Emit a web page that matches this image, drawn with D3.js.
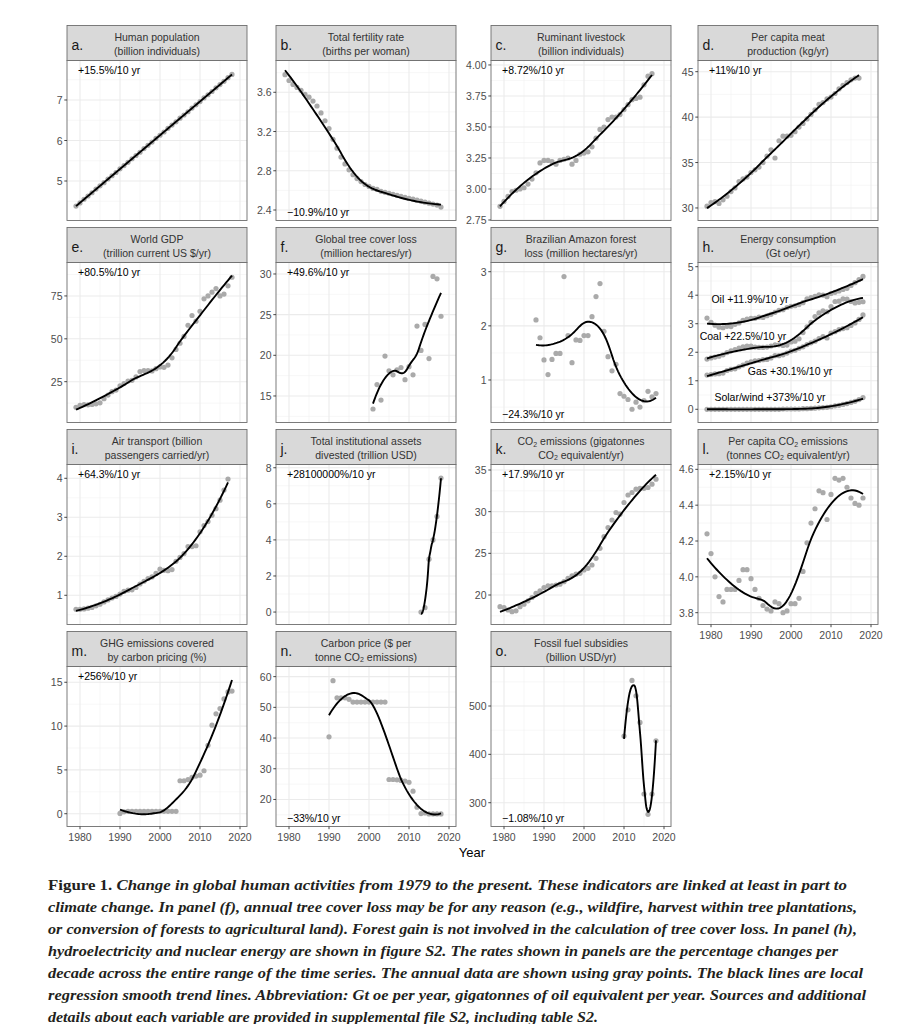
<!DOCTYPE html>
<html><head><meta charset="utf-8">
<script src="https://cdn.jsdelivr.net/npm/d3@7"></script>
<style>body{margin:0;background:#fff} svg{display:block}</style>
</head><body>
<svg id="chart" width="913" height="1024"></svg>
<script>
// ---------------- DATA ----------------
const xTickYears = [1980, 1990, 2000, 2010, 2020];
const xMinorYears = [1985, 1995, 2005, 2015];

const years7918 = d3.range(1979, 2019);
const years7917 = d3.range(1979, 2018);
const years0118 = d3.range(2001, 2019);
const years8818 = d3.range(1988, 2019);
const years1318 = d3.range(2013, 2019);
const years9018 = d3.range(1990, 2019);
const years1018 = d3.range(2010, 2019);

const population = [4.38,4.46,4.55,4.63,4.71,4.80,4.88,4.96,5.05,5.13,5.21,5.30,5.38,5.46,5.55,5.63,5.71,5.80,5.88,5.96,6.05,6.13,6.21,6.30,6.38,6.46,6.55,6.63,6.71,6.80,6.88,6.96,7.05,7.13,7.21,7.30,7.38,7.46,7.55,7.63];
const fertility = [3.78,3.72,3.68,3.65,3.62,3.58,3.55,3.51,3.46,3.39,3.31,3.23,3.12,3.03,2.94,2.87,2.81,2.76,2.72,2.69,2.66,2.64,2.62,2.61,2.59,2.58,2.57,2.56,2.55,2.54,2.53,2.52,2.51,2.50,2.49,2.48,2.47,2.46,2.45,2.43];
const livestock = [2.86,2.90,2.94,2.98,2.99,3.00,3.01,3.04,3.08,3.13,3.21,3.23,3.23,3.22,3.20,3.23,3.24,3.25,3.20,3.23,3.28,3.29,3.30,3.34,3.41,3.48,3.50,3.56,3.58,3.58,3.60,3.64,3.68,3.72,3.73,3.74,3.84,3.91,3.93];
const meat = [30.2,30.6,30.7,30.5,30.9,31.3,31.8,32.2,32.9,33.2,33.4,33.9,34.2,34.5,35.0,35.7,36.4,35.5,37.4,37.9,37.9,38.0,38.4,38.9,39.3,39.8,40.3,40.8,41.4,41.6,42.0,42.2,42.6,43.1,43.5,43.8,44.1,44.3,44.3];
const gdp = [10.1,11.2,11.6,11.5,11.7,12.1,12.7,15.1,17.2,19.2,20.1,22.6,23.9,25.4,25.8,27.8,30.9,31.5,31.4,31.3,32.6,33.6,33.4,34.7,38.9,43.8,47.4,51.4,57.9,63.6,60.3,66.0,73.3,75.0,77.2,79.3,75.0,76.1,80.9,85.9];
const treeLoss = [13.4,16.4,14.5,19.9,18.1,17.6,18.2,18.5,17.0,18.6,17.6,23.6,20.6,23.8,19.6,29.7,29.4,24.8];
const amazonLoss = [2.11,1.78,1.37,1.10,1.38,1.49,1.49,2.91,1.82,1.32,1.74,1.73,1.82,1.82,2.17,2.54,2.78,1.90,1.43,1.17,1.29,0.75,0.70,0.64,0.46,0.59,0.50,0.62,0.79,0.69,0.75];
const oil = [3.20,3.05,2.95,2.88,2.86,2.91,2.90,2.98,3.03,3.12,3.16,3.19,3.19,3.23,3.22,3.28,3.33,3.40,3.47,3.49,3.57,3.61,3.63,3.67,3.74,3.87,3.92,3.96,4.01,4.00,3.95,4.06,4.10,4.15,4.20,4.24,4.34,4.44,4.55,4.66];
const coal = [1.76,1.80,1.83,1.86,1.91,1.99,2.05,2.09,2.15,2.19,2.22,2.22,2.18,2.17,2.17,2.18,2.22,2.26,2.26,2.24,2.25,2.36,2.39,2.47,2.69,2.89,3.05,3.25,3.38,3.45,3.42,3.60,3.78,3.79,3.87,3.86,3.78,3.73,3.75,3.77];
const gas = [1.20,1.22,1.24,1.25,1.27,1.36,1.40,1.42,1.49,1.55,1.62,1.66,1.70,1.71,1.74,1.75,1.80,1.88,1.88,1.91,1.97,2.04,2.07,2.14,2.19,2.27,2.33,2.39,2.48,2.55,2.50,2.67,2.72,2.79,2.83,2.86,2.94,3.03,3.15,3.31];
const solarWind = [0,0,0,0,0,0,0,0,0,0,0,0,0,0,0,0,0,0,0,0.01,0.01,0.01,0.01,0.01,0.02,0.02,0.03,0.04,0.05,0.06,0.07,0.09,0.12,0.14,0.17,0.20,0.24,0.28,0.34,0.41];
const airPassengers = [0.64,0.64,0.65,0.67,0.69,0.73,0.77,0.83,0.88,0.93,0.97,1.03,1.10,1.13,1.14,1.20,1.29,1.36,1.43,1.47,1.56,1.67,1.64,1.63,1.66,1.87,1.97,2.07,2.25,2.25,2.27,2.63,2.79,2.89,3.05,3.22,3.44,3.70,3.98];
const divested = [0.0,0.24,2.93,4.0,5.3,7.43];
const co2 = [18.6,18.5,18.2,18.0,18.1,18.6,18.9,19.3,19.7,20.2,20.5,20.9,21.1,21.1,21.2,21.3,21.6,22.0,22.3,22.5,22.6,23.0,23.2,23.6,24.4,25.6,27.0,28.1,29.0,29.9,29.7,31.1,32.0,32.3,32.7,32.8,32.8,32.9,33.3,33.9];
const co2PerCapita = [4.24,4.13,4.00,3.89,3.86,3.93,3.93,3.93,3.98,4.04,4.04,3.99,3.93,3.88,3.84,3.82,3.81,3.86,3.85,3.80,3.81,3.85,3.85,3.88,4.03,4.19,4.30,4.38,4.48,4.47,4.32,4.46,4.55,4.54,4.55,4.50,4.44,4.41,4.40,4.44];
const ghgCovered = [0.03,0.22,0.27,0.27,0.27,0.27,0.27,0.27,0.27,0.27,0.27,0.27,0.27,0.27,0.27,3.76,3.76,3.9,4.15,4.3,4.4,4.9,7.8,10.1,11.4,12.0,13.1,13.9,14.0];
const carbonPrice = [40.4,58.7,53.1,53.1,53.1,52.6,51.7,51.7,51.7,51.7,51.7,51.7,51.7,51.7,51.7,26.5,26.5,26.4,26.2,26.0,25.6,22.7,17.5,15.4,15.6,15.3,15.3,15.3,15.3];
const fossilSubsidies = [438,492,553,521,466,318,276,318,428];

const ticksA=[5,6,7], ticksB=[2.4,2.8,3.2,3.6], ticksC=[2.75,3.00,3.25,3.50,3.75,4.00], ticksD=[30,35,40,45],
      ticksE=[25,50,75], ticksF=[15,20,25,30], ticksG=[1,2,3], ticksH=[0,1,2,3,4,5],
      ticksI=[1,2,3,4], ticksJ=[0,2,4,6,8], ticksK=[20,25,30,35], ticksL=[3.8,4.0,4.2,4.4,4.6],
      ticksM=[0,5,10,15], ticksN=[20,30,40,50,60], ticksO=[300,400,500];

const energyLabels = ["Oil +11.9%/10 yr","Coal +22.5%/10 yr","Gas +30.1%/10 yr","Solar/wind +373%/10 yr"];

const captionLines = [
  " Change in global human activities from 1979 to the present. These indicators are linked at least in part to",
  "climate change. In panel (f), annual tree cover loss may be for any reason (e.g., wildfire, harvest within tree plantations,",
  "or conversion of forests to agricultural land). Forest gain is not involved in the calculation of tree cover loss. In panel (h),",
  "hydroelectricity and nuclear energy are shown in figure S2. The rates shown in panels are the percentage changes per",
  "decade across the entire range of the time series. The annual data are shown using gray points. The black lines are local",
  "regression smooth trend lines. Abbreviation: Gt oe per year, gigatonnes of oil equivalent per year. Sources and additional",
  "details about each variable are provided in supplemental file S2, including table S2."
];

// ---------------- PANEL TABLE ----------------
const f0 = d3.format("d"), f1 = d3.format(".1f"), f2 = d3.format(".2f");
const panels = [
 {key:"a.", row:0,col:0, title:["Human population","(billion individuals)"], series:[[years7918,population]], yDomain:[4.025,7.975], yTicks:ticksA, fmt:f0, rate:"+15.5%/10 yr", rateAt:"top"},
 {key:"b.", row:0,col:1, title:["Total fertility rate","(births per woman)"], series:[[years7918,fertility]], yDomain:[2.293,3.924], yTicks:ticksB, fmt:f1, rate:"\u221210.9%/10 yr", rateAt:"bottom"},
 {key:"c.", row:0,col:2, title:["Ruminant livestock","(billion individuals)"], series:[[years7917,livestock]], yDomain:[2.746,4.036], yTicks:ticksC, fmt:f2, rate:"+8.72%/10 yr", rateAt:"top"},
 {key:"d.", row:0,col:3, title:["Per capita meat","production (kg/yr)"], series:[[years7917,meat]], yDomain:[28.62,46.23], yTicks:ticksD, fmt:f0, rate:"+11%/10 yr", rateAt:"top"},
 {key:"e.", row:1,col:0, title:["World GDP","(trillion current US $/yr)"], series:[[years7918,gdp]], yDomain:[1.2,94.5], yTicks:ticksE, fmt:f0, rate:"+80.5%/10 yr", rateAt:"top"},
 {key:"f.", row:1,col:1, title:["Global tree cover loss","(million hectares/yr)"], series:[[years0118,treeLoss]], yDomain:[11.74,31.41], yTicks:ticksF, fmt:f0, rate:"+49.6%/10 yr", rateAt:"top"},
 {key:"g.", row:1,col:2, title:["Brazilian Amazon forest","loss (million hectares/yr)"], series:[[years8818,amazonLoss]], yDomain:[0.215,3.17], yTicks:ticksG, fmt:f0, rate:"\u221224.3%/10 yr", rateAt:"bottom"},
 {key:"h.", row:1,col:3, title:["Energy consumption","(Gt oe/yr)"], series:[[years7918,oil],[years7918,coal],[years7918,gas],[years7918,solarWind]], yDomain:[-0.463,5.147], yTicks:ticksH, fmt:f0, rate:null,
   labels:[[1989.75,3.87],[1988.0,2.57],[1999.75,1.36],[1994.75,0.44]]},
 {key:"i.", row:2,col:0, title:["Air transport (billion","passengers carried/yr)"], series:[[years7917,airPassengers]], yDomain:[0.251,4.354], yTicks:ticksI, fmt:f0, rate:"+64.3%/10 yr", rateAt:"top"},
 {key:"j.", row:2,col:1, title:["Total institutional assets","divested (trillion USD)"], series:[[years1318,divested]], yDomain:[-0.69,8.18], yTicks:ticksJ, fmt:f0, rate:"+28100000%/10 yr", rateAt:"top"},
 {key:"k.", row:2,col:2, title:["CO_2 emissions (gigatonnes","CO_2 equivalent/yr)"], series:[[years7918,co2]], yDomain:[16.46,35.66], yTicks:ticksK, fmt:f0, rate:"+17.9%/10 yr", rateAt:"top"},
 {key:"l.", row:2,col:3, title:["Per capita CO_2 emissions","(tonnes CO_2 equivalent/yr)"], series:[[years7918,co2PerCapita]], yDomain:[3.734,4.627], yTicks:ticksL, fmt:f1, rate:"+2.15%/10 yr", rateAt:"top"},
 {key:"m.", row:3,col:0, title:["GHG emissions covered","by carbon pricing (%)"], series:[[years9018,ghgCovered]], yDomain:[-1.46,16.8], yTicks:ticksM, fmt:f0, rate:"+256%/10 yr", rateAt:"top"},
 {key:"n.", row:3,col:1, title:["Carbon price ($ per","tonne CO_2 emissions)"], series:[[years9018,carbonPrice]], yDomain:[11.2,63.3], yTicks:ticksN, fmt:f0, rate:"\u221233%/10 yr", rateAt:"bottom"},
 {key:"o.", row:3,col:2, title:["Fossil fuel subsidies","(billion USD/yr)"], series:[[years1018,fossilSubsidies]], yDomain:[250.8,581.7], yTicks:ticksO, fmt:f0, rate:"\u22121.08%/10 yr", rateAt:"bottom"}
];

// ---------------- LOESS (local quadratic, tricube, span 0.75) ----------------
function solve(A, b) {
  const n = b.length, M = A.map((r,i)=>r.concat([b[i]]));
  for (let c=0;c<n;c++){
    let p=c; for(let r=c+1;r<n;r++) if(Math.abs(M[r][c])>Math.abs(M[p][c])) p=r;
    if (Math.abs(M[p][c])<1e-10) return null;
    [M[c],M[p]]=[M[p],M[c]];
    for(let r=0;r<n;r++){ if(r===c) continue; const f=M[r][c]/M[c][c]; for(let k=c;k<=n;k++) M[r][k]-=f*M[c][k]; }
  }
  return M.map((r,i)=>r[n]/r[i]);
}
function localFit(xs, ys, w, x0, deg) {
  const m = deg+1, A = Array.from({length:m},()=>Array(m).fill(0)), b = Array(m).fill(0);
  xs.forEach((xi,i)=>{ if(w[i]<=0) return; const t=xi-x0; const B=[1,t,t*t].slice(0,m);
    for(let r=0;r<m;r++){ b[r]+=w[i]*B[r]*ys[i]; for(let c=0;c<m;c++) A[r][c]+=w[i]*B[r]*B[c]; } });
  const s = solve(A,b); return s ? s[0] : null;
}
function loess(xs, ys, span=0.75, nOut=80) {
  const n = xs.length, q = Math.max(3, Math.floor(n*span));
  const [lo, hi] = d3.extent(xs);
  const out = [];
  for (let k=0;k<nOut;k++){
    const x0 = lo + (hi-lo)*k/(nOut-1);
    const d = xs.map(x=>Math.abs(x-x0));
    const s = d.slice().sort((a,b)=>a-b);
    let h = q < n ? (s[q-1]+s[q])/2 : s[n-1]*1.001;
    const w = d.map(di=>{ const u=di/h; return u<1 ? Math.pow(1-u*u*u,3) : 0; });
    let v = localFit(xs, ys, w, x0, 2);
    if (v===null) v = localFit(xs, ys, w, x0, 1);
    out.push([x0, v]);
  }
  return out;
}

// ---------------- DRAW ----------------
const svg = d3.select("#chart").attr("font-family","'Liberation Sans', Arial, sans-serif");
svg.append("rect").attr("width",913).attr("height",1024).attr("fill","#fff");

const colLeft=[67,276,491,698], rowTop=[25.5,227.5,429.5,631.5];
const PW=180, SH=35, PH=160;
const xDomain=[1976.75, 2021.75];

function richText(sel, str, subSize) {
  const parts = str.split("_2");
  parts.forEach((p,i)=>{
    if (i>0) sel.append("tspan").attr("font-size",subSize).attr("dy",2.6).text("2");
    const t = sel.append("tspan").text(p);
    if (i>0) t.attr("dy",-2.6);
  });
}

panels.forEach(p=>{
  const left=colLeft[p.col], sTop=rowTop[p.row], top=sTop+SH, bottom=top+PH;
  const x=d3.scaleLinear().domain(xDomain).range([left,left+PW]);
  const y=d3.scaleLinear().domain(p.yDomain).range([bottom,top]);
  const g=svg.append("g");
  const cid="clip"+p.row+p.col;
  g.append("clipPath").attr("id",cid).append("rect").attr("x",left).attr("y",top).attr("width",PW).attr("height",PH);

  // grid
  const step=p.yTicks[1]-p.yTicks[0];
  const yMinor=[];
  for(let i=-1;i<p.yTicks.length;i++){ const v=p.yTicks[0]+step*(i+0.5); if(v>p.yDomain[0]&&v<p.yDomain[1]) yMinor.push(v); }
  const grid=g.append("g");
  grid.selectAll(".ymn").data(yMinor).join("line").attr("x1",left).attr("x2",left+PW).attr("y1",d=>y(d)).attr("y2",d=>y(d)).attr("stroke","#f2f2f2").attr("stroke-width",0.6);
  grid.selectAll(".xmn").data(xMinorYears).join("line").attr("y1",top).attr("y2",bottom).attr("x1",d=>x(d)).attr("x2",d=>x(d)).attr("stroke","#f2f2f2").attr("stroke-width",0.6);
  grid.selectAll(".ymj").data(p.yTicks).join("line").attr("x1",left).attr("x2",left+PW).attr("y1",d=>y(d)).attr("y2",d=>y(d)).attr("stroke","#ebebeb").attr("stroke-width",1.1);
  grid.selectAll(".xmj").data(xTickYears).join("line").attr("y1",top).attr("y2",bottom).attr("x1",d=>x(d)).attr("x2",d=>x(d)).attr("stroke","#ebebeb").attr("stroke-width",1.1);

  const plot=g.append("g").attr("clip-path",`url(#${cid})`);
  p.series.forEach(([xs,ys])=>{
    plot.append("g").selectAll("circle").data(xs.map((xv,i)=>[xv,ys[i]])).join("circle")
      .attr("cx",d=>x(d[0])).attr("cy",d=>y(d[1])).attr("r",2.6).attr("fill","#aaaaaa");
  });
  p.series.forEach(([xs,ys])=>{
    plot.append("path").datum(loess(xs,ys)).attr("fill","none").attr("stroke","#000").attr("stroke-width",1.9)
      .attr("d",d3.line().x(d=>x(d[0])).y(d=>y(d[1])));
  });

  if (p.labels) {
    p.labels.forEach((pos,i)=>{
      g.append("text").attr("x",x(pos[0])).attr("y",y(pos[1])).attr("text-anchor","middle").attr("dominant-baseline","central")
        .attr("font-size","10.5px").attr("fill","#000").text(energyLabels[i]);
    });
  }
  if (p.rate) {
    g.append("text").attr("x",left+11).attr("y",p.rateAt==="top"?top+9.5:bottom-8.5).attr("dominant-baseline","central")
      .attr("font-size","10.5px").attr("fill","#000").text(p.rate);
  }

  // border
  g.append("rect").attr("x",left).attr("y",top).attr("width",PW).attr("height",PH).attr("fill","none").attr("stroke","#6e6e6e").attr("stroke-width",0.9);

  // strip
  g.append("rect").attr("x",left).attr("y",sTop).attr("width",PW).attr("height",SH).attr("fill","#d9d9d9").attr("stroke","#6e6e6e").attr("stroke-width",0.9);
  g.append("text").attr("x",left+4.5).attr("y",sTop+19.3).attr("dominant-baseline","central").attr("font-size","14px").attr("fill","#1a1a1a").text(p.key);
  p.title.forEach((line,i)=>{
    const t=g.append("text").attr("x",left+PW/2).attr("y",sTop+11.7+13.3*i).attr("text-anchor","middle").attr("dominant-baseline","central")
      .attr("font-size","10.5px").attr("fill","#333");
    richText(t,line,"7px");
  });

  // y axis
  const ya=g.append("g");
  ya.selectAll("line").data(p.yTicks).join("line").attr("x1",left-2.7).attr("x2",left).attr("y1",d=>y(d)).attr("y2",d=>y(d)).attr("stroke","#333").attr("stroke-width",0.9);
  ya.selectAll("text").data(p.yTicks).join("text").attr("x",left-4.5).attr("y",d=>y(d)).attr("text-anchor","end").attr("dominant-baseline","central")
    .attr("font-size","10.5px").attr("fill","#4d4d4d").text(d=>p.fmt(d));

  // x axis (only where no panel below)
  const hasBelow = panels.some(o=>o.col===p.col && o.row===p.row+1);
  if (!hasBelow) {
    const xa=g.append("g");
    xa.selectAll("line").data(xTickYears).join("line").attr("x1",d=>x(d)).attr("x2",d=>x(d)).attr("y1",bottom).attr("y2",bottom+2.7).attr("stroke","#333").attr("stroke-width",0.9);
    xa.selectAll("text").data(xTickYears).join("text").attr("x",d=>x(d)).attr("y",bottom+10.3).attr("text-anchor","middle").attr("dominant-baseline","central")
      .attr("font-size","10.5px").attr("fill","#4d4d4d").text(d=>d);
  }
});

svg.append("text").attr("x",472).attr("y",852.5).attr("text-anchor","middle").attr("dominant-baseline","central").attr("font-size","13px").attr("fill","#000").text("Year");

// caption
const capEnds=[847,857,857,838,863,866,598];
const cap=svg.append("g").attr("font-family","'Liberation Serif','DejaVu Serif',serif").attr("font-size","15.5px").attr("fill","#231f20").attr("font-weight","bold");
captionLines.forEach((line,i)=>{
  const t=cap.append("text").attr("x",48).attr("y",889.5+22*i).attr("textLength",capEnds[i]-48).attr("lengthAdjust","spacingAndGlyphs");
  if(i===0){ t.append("tspan").text("Figure 1."); t.append("tspan").attr("font-style","italic").text(line); }
  else t.attr("font-style","italic").text(line);
});
</script>
</body></html>
